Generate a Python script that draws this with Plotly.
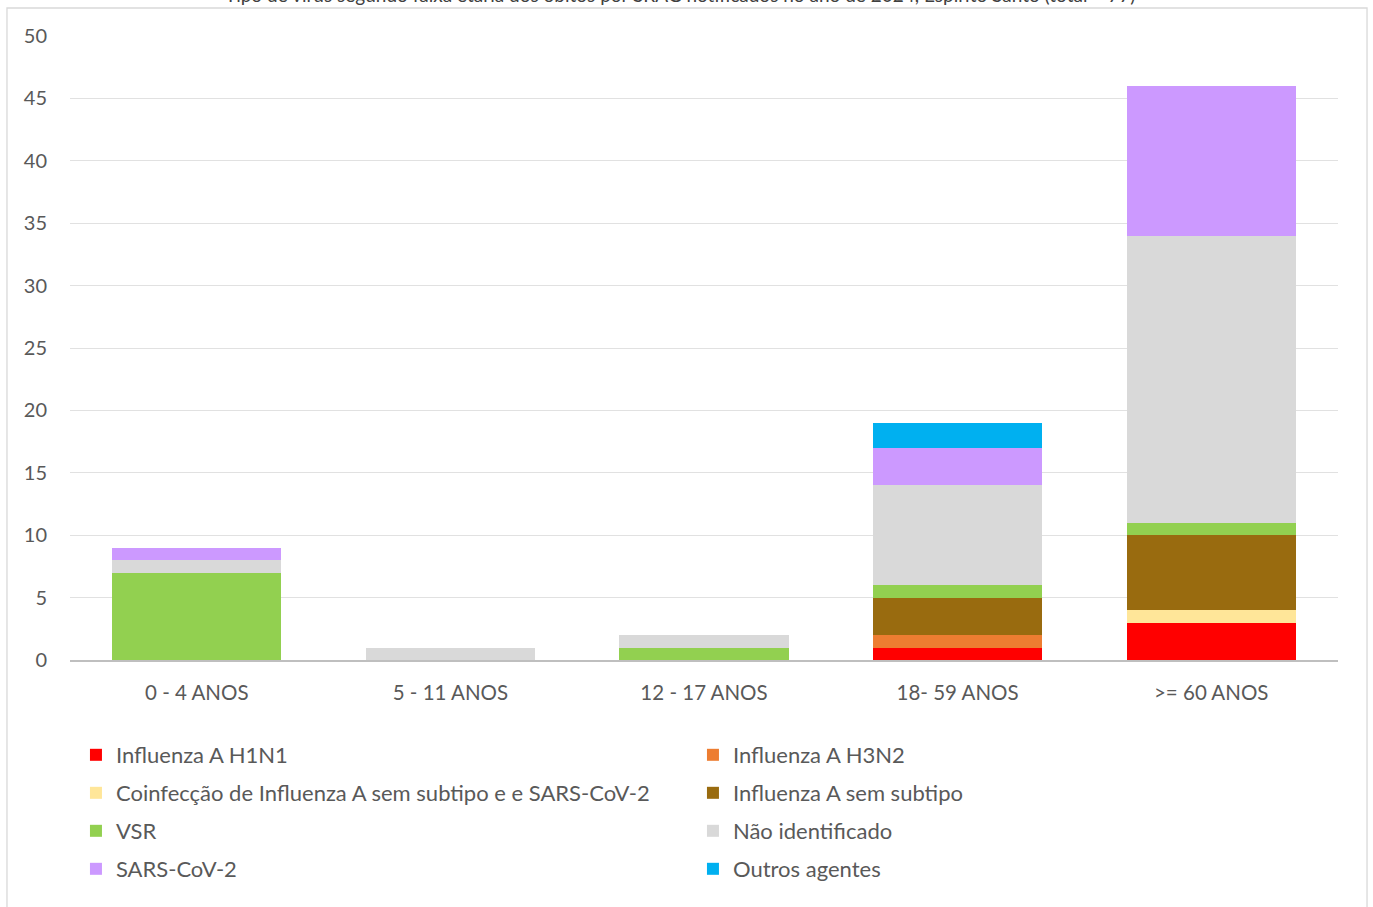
import plotly.graph_objects as go

categories = ["0 - 4 ANOS", "5 - 11 ANOS", "12 - 17 ANOS", "18- 59 ANOS", ">= 60 ANOS"]

series_names = [
    "Influenza A H1N1",
    "Influenza A H3N2",
    "Coinfecção de Influenza A sem subtipo e e SARS-CoV-2",
    "Influenza A sem subtipo",
    "VSR",
    "Não identificado",
    "SARS-CoV-2",
    "Outros agentes",
]

h1n1 = [0, 0, 0, 1, 3]
h3n2 = [0, 0, 0, 1, 0]
coinfeccao = [0, 0, 0, 0, 1]
sem_subtipo = [0, 0, 0, 3, 6]
vsr = [7, 0, 1, 1, 1]
nao_identificado = [1, 1, 1, 8, 23]
sars_cov2 = [1, 0, 0, 3, 12]
outros = [0, 0, 0, 2, 0]

series_values = [h1n1, h3n2, coinfeccao, sem_subtipo, vsr, nao_identificado, sars_cov2, outros]
colors = ["#FF0000", "#ED7D31", "#FFE699", "#996B0F", "#92D050", "#D9D9D9", "#CC99FF", "#00B0F0"]

title_text = ("Tipo de vírus segundo faixa etária dos óbitos por SRAG notificados no ano de 2024, "
              "Espírito Santo (total = 77)")

font_family = "Lato, Open Sans, sans-serif"
text_color = "#595959"

# two legend entries per row, one legend per row
legend_ids = ["legend", "legend", "legend2", "legend2", "legend3", "legend3", "legend4", "legend4"]

fig = go.Figure()
for name, vals, col, lg in zip(series_names, series_values, colors, legend_ids):
    fig.add_trace(go.Bar(
        x=categories, y=vals, name=name, legend=lg,
        marker=dict(color=col, line=dict(width=0)),
    ))

legend_common = dict(orientation="h", x=0.0047, xanchor="left", yanchor="top",
                     entrywidth=572, entrywidthmode="pixels",
                     font=dict(size=22, color=text_color, family=font_family),
                     traceorder="normal", itemclick=False, itemdoubleclick=False,
                     bgcolor="rgba(0,0,0,0)")

fig.update_layout(
    width=1373, height=907,
    barmode="stack",
    bargap=0.333,
    plot_bgcolor="white",
    paper_bgcolor="white",
    margin=dict(l=70, r=35, t=36, b=247, autoexpand=False),
    font=dict(family=font_family, color=text_color, size=20),
    xaxis=dict(showgrid=False, showline=True, linecolor="#BFBFBF", linewidth=1.5,
               ticks="", ticklabelstandoff=14, tickfont=dict(size=20.5, color=text_color)),
    yaxis=dict(range=[0, 50], dtick=5, showgrid=True, gridcolor="#E1E1E1", gridwidth=1.3,
               zeroline=False, showline=False, ticks="", ticklabelstandoff=22,
               tickfont=dict(size=20, color=text_color)),
    legend=dict(y=-0.1186, **legend_common),
    legend2=dict(y=-0.1795, **legend_common),
    legend3=dict(y=-0.2404, **legend_common),
    legend4=dict(y=-0.3013, **legend_common),
    showlegend=True,
)

fig.add_annotation(text=title_text, xref="paper", yref="paper", x=0.481, y=1.0673,
                   xanchor="center", yanchor="middle", showarrow=False,
                   font=dict(size=19, color="#404040", family=font_family))

fig.add_shape(type="rect", xref="paper", yref="paper",
              x0=-0.0497, x1=1.0229, y0=-0.41, y1=1.0449,
              line=dict(color="#D9D9D9", width=1.3), fillcolor="rgba(0,0,0,0)", layer="below")

fig.write_html("out.html", config={"displayModeBar": False},
               post_script="document.body.style.margin='0';")
